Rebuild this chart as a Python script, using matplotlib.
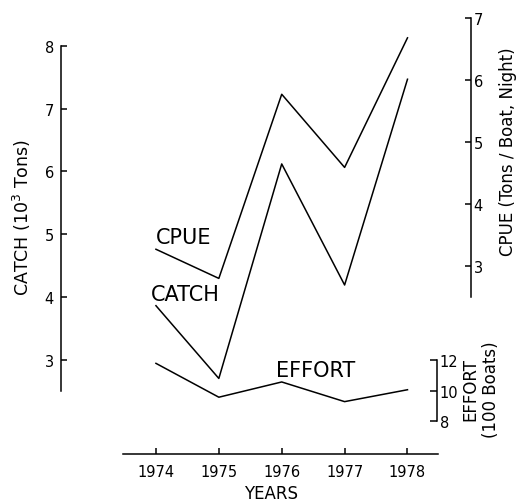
import matplotlib
matplotlib.use("Agg")
import matplotlib.pyplot as plt

years = [1974, 1975, 1976, 1977, 1978]
catch = [3.86, 2.70, 6.12, 4.19, 7.47]
cpue = [3.27, 2.80, 5.77, 4.59, 6.68]
effort = [11.78, 9.56, 10.56, 9.27, 10.05]
catch_ticks = [3, 4, 5, 6, 7, 8]
cpue_ticks = [3, 4, 5, 6, 7]
effort_ticks = [8, 10, 12]

W, H = 516, 502
fig = plt.figure(figsize=(W / 100, H / 100), dpi=100)
plt.rcParams['font.family'] = ['DejaVu Sans']

XL = (1972.49, 1979.01)
LW = 1.1


def add_ax(x0, y0, x1, y1):
    ax = fig.add_axes([x0 / W, 1 - y1 / H, (x1 - x0) / W, (y1 - y0) / H])
    ax.patch.set_visible(False)
    for s in ax.spines.values():
        s.set_visible(False)
        s.set_linewidth(LW)
    ax.set_xlim(*XL)
    return ax


def ftext(x, y, s, **kw):
    fig.text(x / W, 1 - y / H, s, **kw)


# CATCH axis (left)
axc = add_ax(61, 47, 471, 392)
axc.set_ylim(2.5, 8)
axc.spines['left'].set_visible(True)
axc.set_yticks(catch_ticks)
axc.tick_params(axis='y', direction='in', length=4, width=LW, labelsize=10.5, pad=5)
axc.spines['bottom'].set_visible(True)
axc.spines['bottom'].set_position(('axes', -(455 - 392) / 345))
axc.spines['bottom'].set_bounds(1973.475, 1978.48)
axc.set_xticks(years)
axc.set_xticklabels([str(y) for y in years])
axc.tick_params(axis='x', direction='in', length=4, width=LW, labelsize=10.5, pad=7)
axc.plot(years, catch, color='black', lw=LW, clip_on=False)

# CPUE axis (right)
axp = add_ax(61, 19, 471, 298)
axp.set_ylim(2.5, 7)
axp.spines['right'].set_visible(True)
axp.yaxis.tick_right()
axp.set_yticks(cpue_ticks)
axp.set_xticks([])
axp.tick_params(axis='y', direction='in', length=4, width=LW, labelsize=10.5, pad=2)
axp.plot(years, cpue, color='black', lw=LW, clip_on=False)

# EFFORT axis (small, right)
axe = add_ax(61, 361, 471, 422)
axe.set_ylim(8, 12)
axe.spines['right'].set_visible(True)
axe.spines['right'].set_position(('axes', (437 - 61) / 410))
axe.yaxis.tick_right()
axe.set_yticks(effort_ticks)
axe.set_xticks([])
axe.tick_params(axis='y', direction='in', length=5, width=LW, labelsize=10.5, pad=2)
axe.plot(years, effort, color='black', lw=LW, clip_on=False)

# Axis titles
ftext(22, 218, "CATCH (10$^3$ Tons)", rotation=90, ha='center', va='center', fontsize=12.5)
ftext(508, 152, "CPUE (Tons / Boat, Night)", rotation=90, ha='center', va='center', fontsize=12)
ftext(481, 390, "EFFORT\n(100 Boats)", rotation=90, ha='center', va='center',
      multialignment='center', fontsize=12)
ftext(271, 494, "YEARS", ha='center', va='center', fontsize=12)

# Series labels
ftext(156, 238, "CPUE", ha='left', va='center', fontsize=15)
ftext(151, 295, "CATCH", ha='left', va='center', fontsize=15)
ftext(276, 371, "EFFORT", ha='left', va='center', fontsize=15)

fig.savefig("out.png", dpi=100)
